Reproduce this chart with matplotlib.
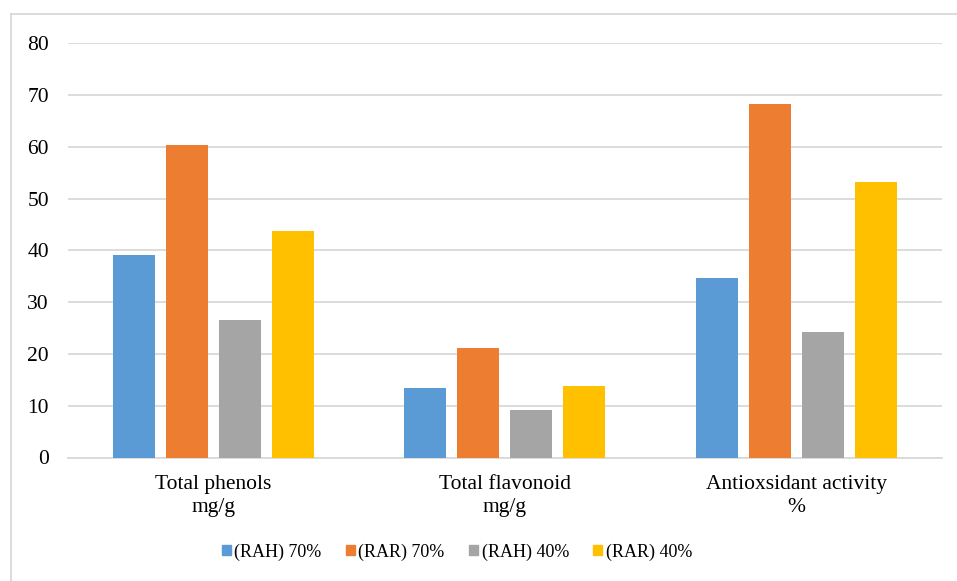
import matplotlib.pyplot as plt
import numpy as np
from matplotlib.lines import Line2D

categories = ["Total phenols\nmg/g", "Total flavonoid\nmg/g", "Antioxsidant activity\n%"]
series_names = ["(RAH) 70%", "(RAR) 70%", "(RAH) 40%", "(RAR) 40%"]
rah_70 = [39.2, 13.4, 34.6]
rar_70 = [60.4, 21.2, 68.2]
rah_40 = [26.6, 9.2, 24.2]
rar_40 = [43.7, 13.9, 53.2]
colors = ["#5B9BD5", "#ED7D31", "#A5A5A5", "#FFC000"]
y_ticks = [0, 10, 20, 30, 40, 50, 60, 70, 80]

plt.rcParams["font.family"] = ["Liberation Serif", "DejaVu Serif"]

W, H = 957, 581
fig = plt.figure(figsize=(W / 100, H / 100), dpi=100)
ax = fig.add_axes([67.7 / W, 1 - 457.5 / H, (942 - 67.7) / W, (457.5 - 43.3) / H])

x = np.arange(len(categories))
bar_w = 0.144
step = 0.182
all_series = [rah_70, rar_70, rah_40, rar_40]
for i, (vals, c, name) in enumerate(zip(all_series, colors, series_names)):
    offset = (i - 1.5) * step
    ax.bar(x + offset, vals, width=bar_w, color=c, label=name, zorder=3)

ax.set_xlim(-0.5, 2.5)
ax.set_ylim(0, 80)
ax.set_yticks(y_ticks)
ax.set_yticklabels([str(t) for t in y_ticks], fontsize=15.5)
ax.set_xticks(x)
ax.set_xticklabels(categories, fontsize=15.5, linespacing=1.3)
ax.tick_params(axis="both", length=0)
ax.tick_params(axis="x", pad=12.5)
ax.tick_params(axis="y", pad=13.5)
ax.grid(axis="y", color="#D9D9D9", linewidth=1.3, zorder=0)
for side in ["top", "right", "left"]:
    ax.spines[side].set_visible(False)
ax.spines["bottom"].set_color("#D9D9D9")
ax.spines["bottom"].set_linewidth(1.3)

# chart frame
fig.add_artist(Line2D([10.7 / W, 1], [1 - 14 / H, 1 - 14 / H], color="#D9D9D9", linewidth=1.3))
fig.add_artist(Line2D([10.7 / W, 10.7 / W], [0, 1 - 14 / H], color="#D9D9D9", linewidth=1.3))

handles = [plt.Rectangle((0, 0), 1, 1, color=c) for c in colors]
fig.legend(handles, series_names, loc="center", bbox_to_anchor=(457 / W, 1 - 552 / H),
           ncol=4, frameon=False, fontsize=13, handlelength=0.5, handleheight=0.5,
           handletextpad=0.2, columnspacing=1.35)

fig.savefig("out.png", dpi=100)
